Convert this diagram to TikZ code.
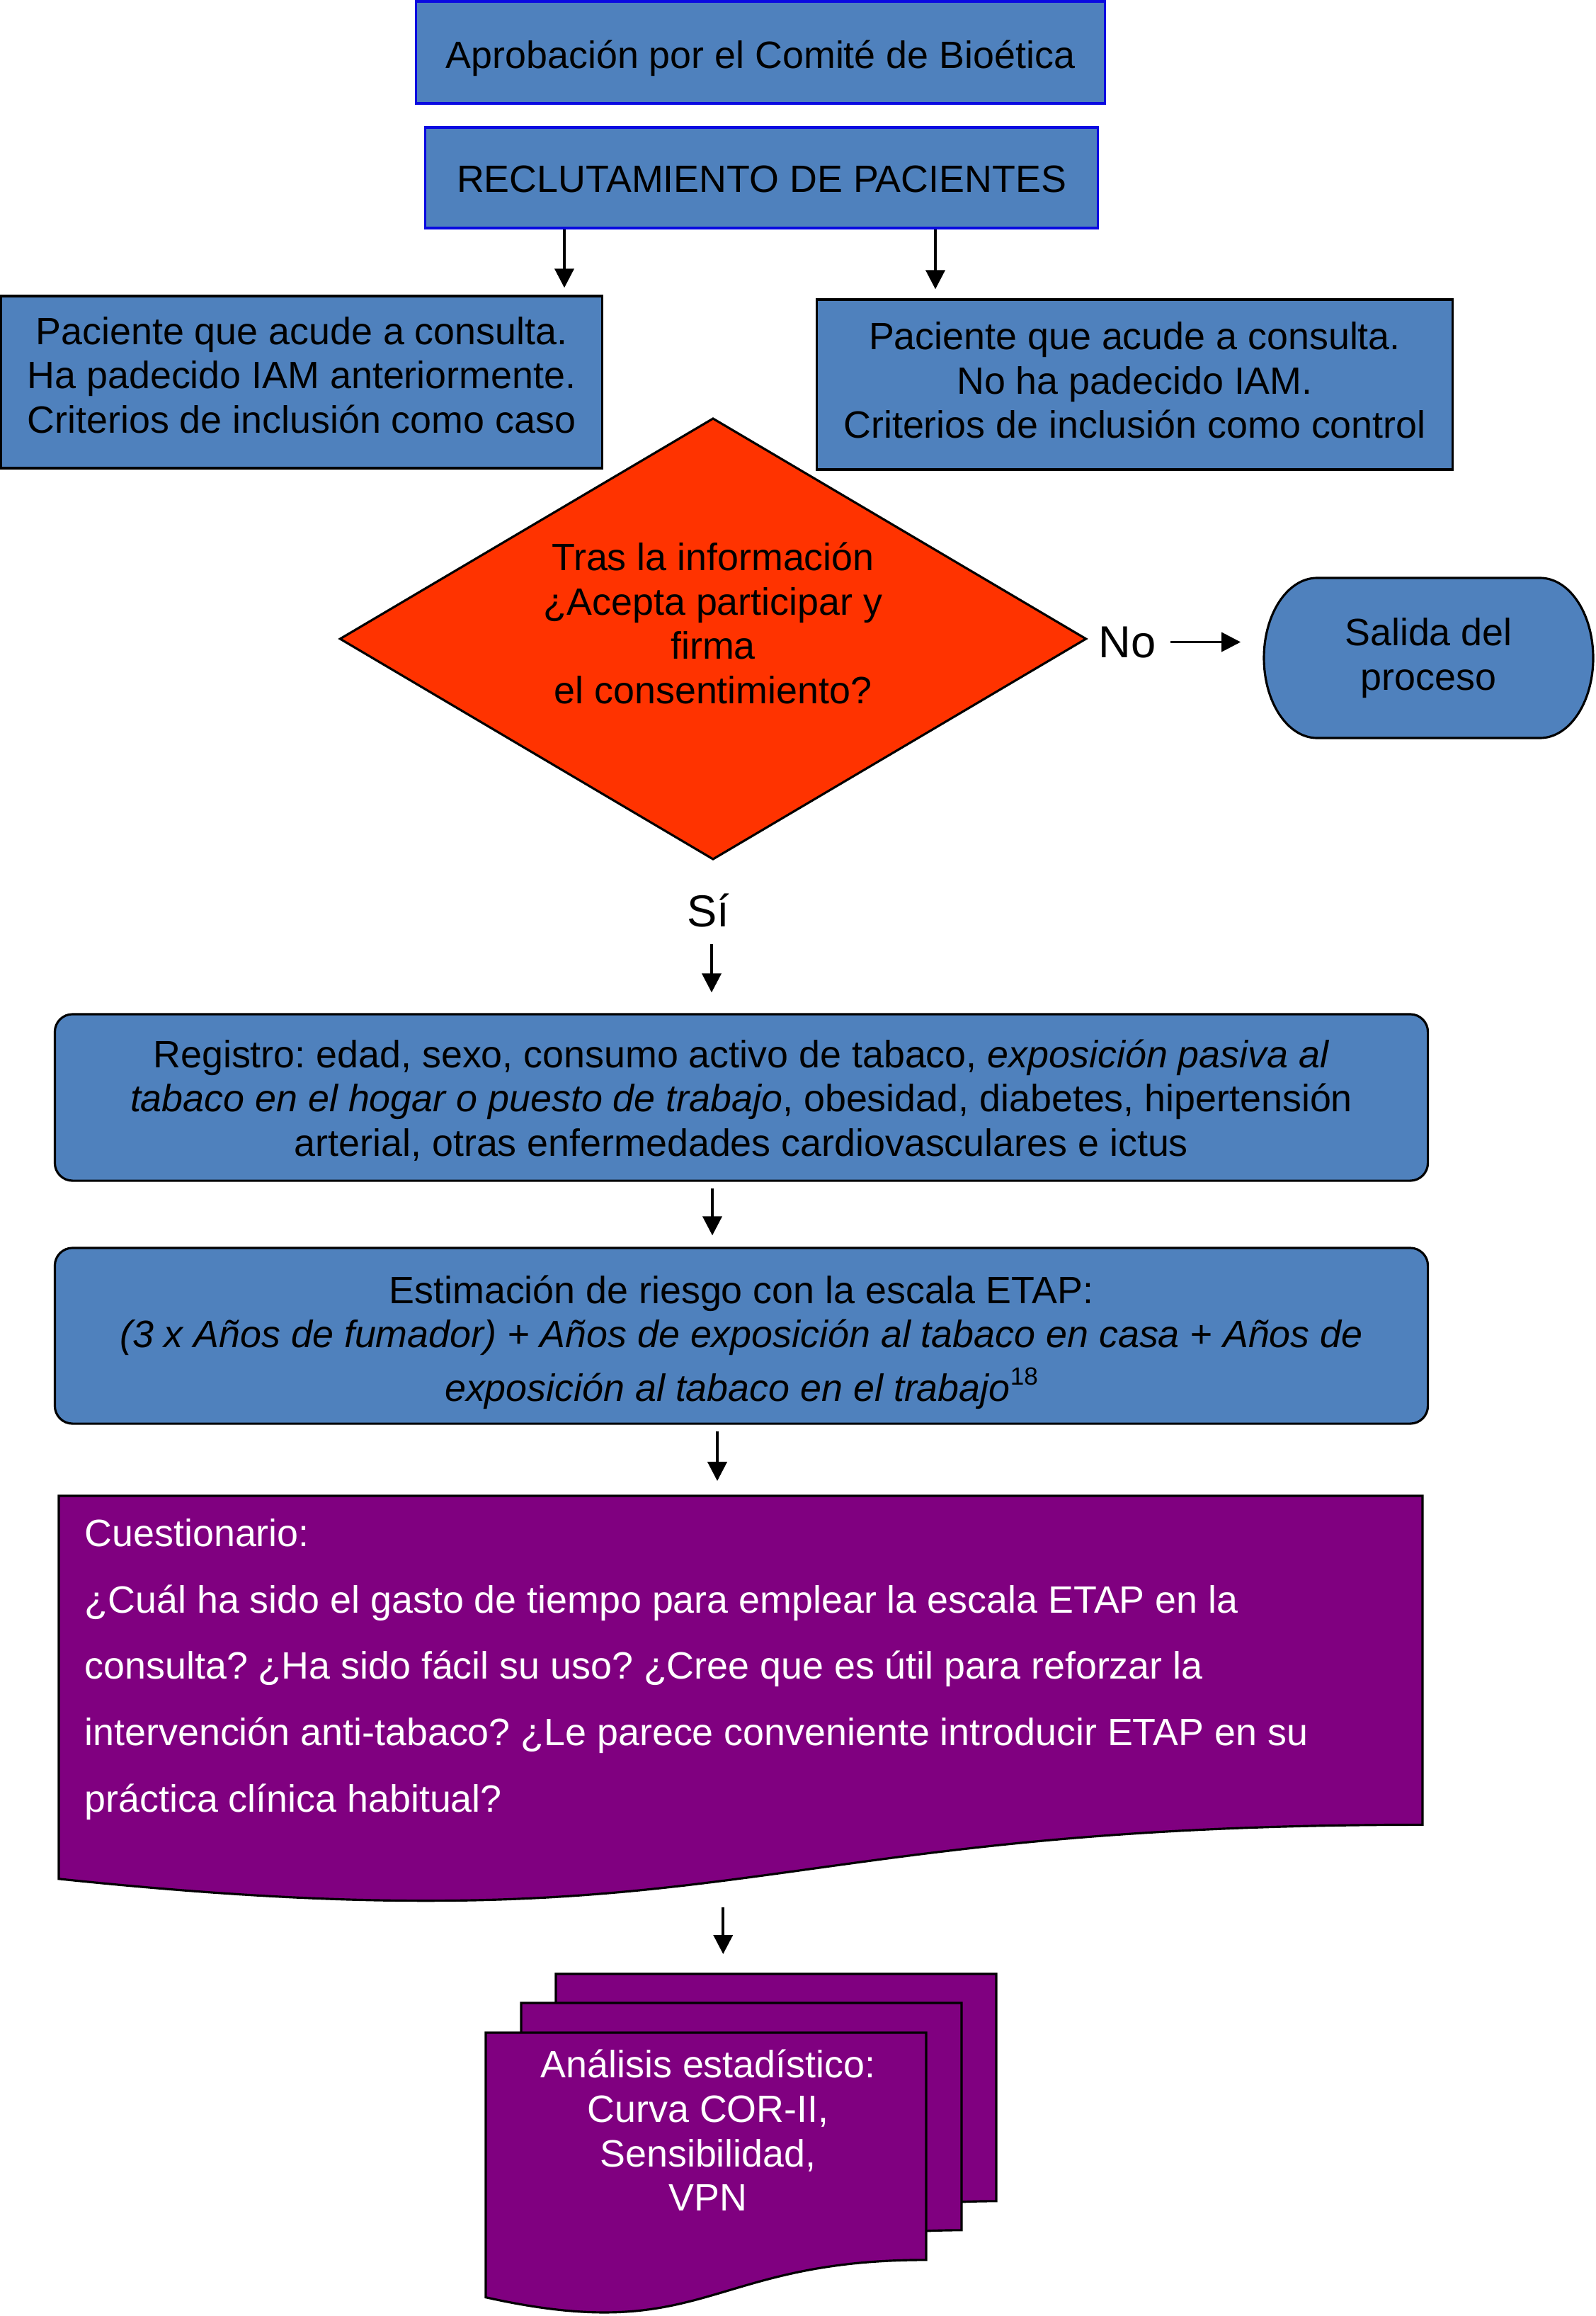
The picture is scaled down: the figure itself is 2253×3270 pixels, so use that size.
\documentclass[tikz,border=0pt]{standalone}
\usepackage{fontspec}
\setmainfont{Liberation Sans}
\usetikzlibrary{arrows.meta,calc,shapes.geometric}
\definecolor{boxblue}{RGB}{79,129,189}
\definecolor{edgeblue}{RGB}{10,10,225}
\definecolor{diared}{RGB}{255,51,0}
\definecolor{docpurple}{RGB}{128,0,128}
\frenchspacing
% document shape: x0, y0 (top-left), width, nominal height, style
\newcommand\docshape[5]{\draw[#5] (#1,#2) -- ({#1+#3},#2) -- ({#1+#3},{#2+0.802*#4}) .. controls ({#1+0.5*#3},{#2+0.802*#4}) and ({#1+0.5*#3},{#2+1.1075*#4}) .. (#1,{#2+0.934*#4}) -- cycle;}
\begin{document}
\frenchspacing
\begin{tikzpicture}[x=0.01cm,y=-0.01cm,
  basefont/.style={font=\fontsize{15.3pt}{17.8pt}\selectfont},
  bigfont/.style={font=\fontsize{18pt}{21pt}\selectfont},
  bluebox/.style={draw=edgeblue, fill=boxblue, line width=0.9pt, inner sep=0pt},
  blackbox/.style={draw=black, fill=boxblue, line width=0.9pt, inner sep=0pt},
  roundbox/.style={blackbox, rounded corners=0.25cm},
  boxtext/.style={basefont, align=center, inner sep=0pt},
  docstyle/.style={draw=black, fill=docpurple, line width=0.9pt},
  ghost/.style={inner sep=0pt, draw=none},
  arr/.style={-{Triangle[length=0.27cm,width=0.27cm]}, line width=1.1pt}]
\useasboundingbox (0,0) rectangle (2253,3270);
\fill[white] (0,0) rectangle (2253,3270);

% top boxes
\node[bluebox, minimum width=9.72cm, minimum height=1.44cm] (box1) at (1074,74) {};
\node[boxtext] (box1t) at ($(box1.center)+(0,8)$) {Aprobación por el Comité de Bioética};
\node[bluebox, minimum width=9.49cm, minimum height=1.42cm] (box2) at (1075.5,251) {};
\node[boxtext] (box2t) at ($(box2.center)+(0,2)$) {RECLUTAMIENTO DE PACIENTES};

\node[blackbox, minimum width=8.48cm, minimum height=2.43cm] (box3) at (426,539.5) {};
\node[boxtext] (box3t) at ($(box3.center)+(0,-10)$) {Paciente que acude a consulta.\\ Ha padecido IAM anteriormente.\\ Criterios de inclusión como caso};
\node[blackbox, minimum width=8.97cm, minimum height=2.40cm] (box4) at (1602.5,543) {};
\node[boxtext] (box4t) at ($(box4.center)+(0,-6)$) {Paciente que acude a consulta.\\ No ha padecido IAM.\\ Criterios de inclusión como control};

% decision
\node[diamond, draw=black, fill=diared, line width=0.9pt, inner sep=0pt, minimum width=10.54cm, minimum height=6.23cm] (dia) at (1007,902) {};
\node[boxtext] (diatext) at (1007,880) {Tras la información\\ ¿Acepta participar y\\ firma\\ el consentimiento?};

\node[bigfont, inner sep=0pt, anchor=base] (no) at (1592,928) {No};

% terminator
\draw[fill=boxblue, draw=black, line width=0.9pt] (1860,816) -- (2175,816) arc[start angle=-90, end angle=90, x radius=75, y radius=113] -- (1860,1042) arc[start angle=90, end angle=270, x radius=75, y radius=113] -- cycle;
\node[ghost, basefont, align=center, minimum width=4.65cm, minimum height=2.26cm] (salida) at (2017.5,929) {Salida del\\ proceso};

\node[bigfont, inner sep=0pt, anchor=base] (si) at (1000,1308) {Sí};

% process boxes
\node[roundbox, minimum width=19.38cm, minimum height=2.35cm] (box5) at (1047,1549.5) {};
\node[boxtext] (box5t) at ($(box5.center)+(0,4)$) {Registro: edad, sexo, consumo activo de tabaco, \textit{exposición pasiva al}\\ \textit{tabaco en el hogar o puesto de trabajo}, obesidad, diabetes, hipertensión\\ arterial, otras enfermedades cardiovasculares e ictus};
\node[roundbox, minimum width=19.38cm, minimum height=2.48cm] (box6) at (1047,1886) {};
\node[boxtext] (box6t) at ($(box6.center)+(0,9)$) {Estimación de riesgo con la escala ETAP:\\ \textit{(3 x Años de fumador) + Años de exposición al tabaco en casa + Años de}\\[3.6pt] \textit{exposición al tabaco en el trabajo}\raisebox{6.5pt}{\fontsize{10pt}{11pt}\selectfont 18}};

% questionnaire document
\docshape{83}{2112}{1926}{579}{docstyle}
\node[ghost, anchor=north west, minimum width=19.26cm, minimum height=5.79cm] (cuest) at (83,2112) {};
\node[inner sep=0pt, text=white, align=left, anchor=west, font=\fontsize{15.3pt}{26.7pt}\selectfont] (cuesttxt) at (119,2357) {Cuestionario:\\ ¿Cuál ha sido el gasto de tiempo para emplear la escala ETAP en la\\ consulta? ¿Ha sido fácil su uso? ¿Cree que es útil para reforzar la\\ intervención anti-tabaco? ¿Le parece conveniente introducir ETAP en su\\ práctica clínica habitual?};

% stacked documents
\docshape{785}{2787}{622}{400}{docstyle}
\docshape{736}{2828}{622}{400}{docstyle}
\docshape{686}{2870}{622}{400}{docstyle}
\node[ghost, anchor=north west, minimum width=6.22cm, minimum height=4cm] (docback) at (785,2787) {};
\node[boxtext, text=white] (analisis) at (1000,3008) {Análisis estadístico:\\ Curva COR-II,\\ Sensibilidad,\\ VPN};

% connectors
\coordinate (a1) at ($(box2.south)+(-278.5,0)$);
\draw[arr, shorten >=0.1cm] (a1) -- (a1 |- box3.north);
\coordinate (a2) at ($(box2.south)+(245.5,0)$);
\draw[arr, shorten >=0.13cm] (a2) -- (a2 |- box4.north);
\draw[arr, shorten <=0.2cm, shorten >=0.32cm] (no.east) -- (no.east -| salida.west);
\coordinate (a4) at ($(si.south)+(5,0)$);
\draw[arr, shorten <=0.24cm, shorten >=0.29cm] (a4) -- (a4 |- box5.north);
\coordinate (a5) at ($(box5.south)+(-41,0)$);
\draw[arr, shorten <=0.09cm, shorten >=0.16cm] (a5) -- (a5 |- box6.north);
\coordinate (a6) at ($(box6.south)+(-34,0)$);
\draw[arr, shorten <=0.09cm, shorten >=0.21cm] (a6) -- (a6 |- cuest.north);
\coordinate (a7) at ($(cuest.south)+(-26,0)$);
\draw[arr, shorten >=0.28cm] (a7) -- (a7 |- docback.north);
\end{tikzpicture}
\end{document}
